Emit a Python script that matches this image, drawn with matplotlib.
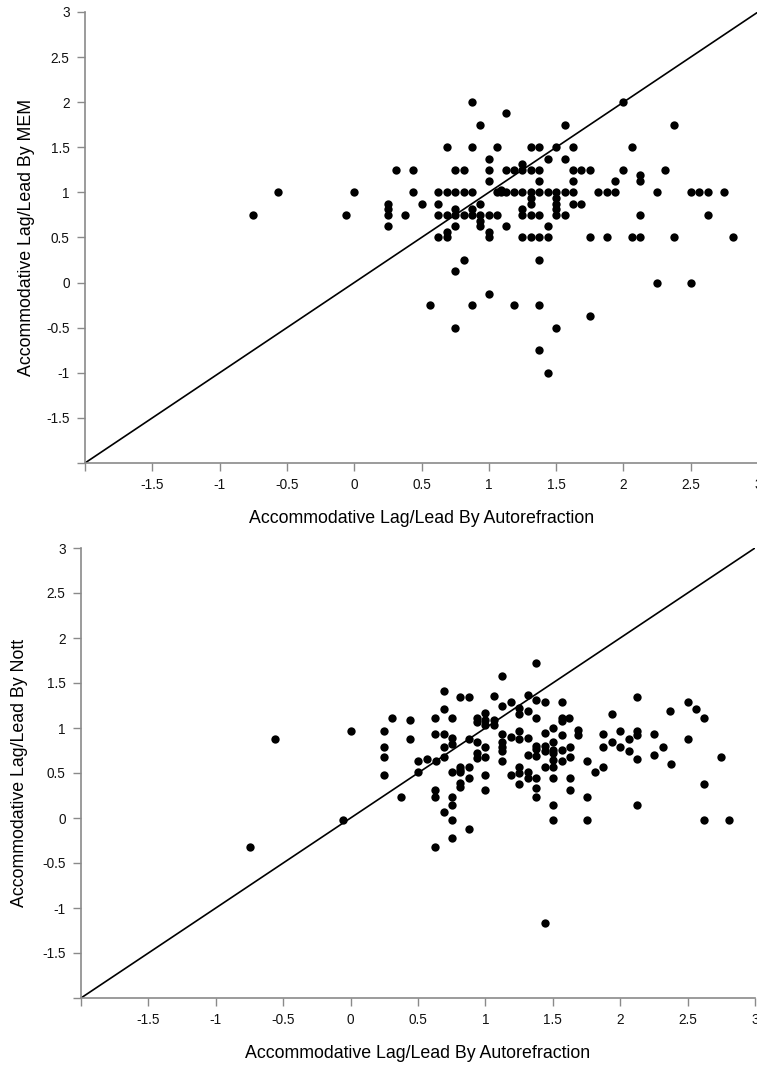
import numpy as np
import matplotlib
matplotlib.use("Agg")
import matplotlib.pyplot as plt

plt.rcParams['font.family'] = ['Liberation Sans', 'DejaVu Sans']

# accommodative lag/lead by autorefraction (x) vs MEM (y)
mem_x = [-0.75, -0.5625, -0.0625, 0.0,
         0.25, 0.25, 0.25, 0.25, 0.3125, 0.375, 0.4375, 0.4375, 0.5, 0.5625,
         0.625, 0.625, 0.625, 0.625,
         0.6875, 0.6875, 0.6875, 0.6875, 0.6875,
         0.75, 0.75, 0.75, 0.75, 0.75, 0.75, 0.75,
         0.8125, 0.8125, 0.8125, 0.8125,
         0.875, 0.875, 0.875, 0.875, 0.875, 0.875,
         0.9375, 0.9375, 0.9375, 0.9375, 0.9375,
         1.0, 1.0, 1.0, 1.0, 1.0, 1.0, 1.0,
         1.0625, 1.0625, 1.0625, 1.09375, 1.09375,
         1.125, 1.125, 1.125, 1.125,
         1.1875, 1.1875, 1.1875,
         1.25, 1.25, 1.25, 1.25, 1.25, 1.25,
         1.3125, 1.3125, 1.3125, 1.3125, 1.3125, 1.3125, 1.3125,
         1.375, 1.375, 1.375, 1.375, 1.375, 1.375, 1.375, 1.375, 1.375,
         1.4375, 1.4375, 1.4375, 1.4375, 1.4375,
         1.5, 1.5, 1.5, 1.5, 1.5, 1.5, 1.5,
         1.5625, 1.5625, 1.5625, 1.5625,
         1.625, 1.625, 1.625, 1.625, 1.625,
         1.6875, 1.6875, 1.75, 1.75, 1.75, 1.8125, 1.875, 1.875,
         1.9375, 1.9375, 2.0, 2.0, 2.0625, 2.0625,
         2.125, 2.125, 2.125, 2.125, 2.25, 2.25, 2.3125, 2.375, 2.375,
         2.5, 2.5, 2.5625, 2.625, 2.625, 2.75, 2.8125]
mem_y = [0.75, 1.0, 0.75, 1.0,
         0.875, 0.8125, 0.75, 0.625, 1.25, 0.75, 1.25, 1.0, 0.875, -0.25,
         1.0, 0.875, 0.75, 0.5,
         1.5, 1.0, 0.75, 0.5625, 0.5,
         1.25, 1.0, 0.8125, 0.75, 0.625, 0.125, -0.5,
         1.25, 1.0, 0.75, 0.25,
         2.0, 1.5, 1.0, 0.8125, 0.75, -0.25,
         1.75, 0.875, 0.75, 0.6875, 0.625,
         1.375, 1.25, 1.125, 0.75, 0.5625, 0.5, -0.125,
         1.5, 1.0, 0.75, 1.0, 1.03,
         1.875, 1.25, 1.0, 0.625,
         1.25, 1.0, -0.25,
         1.3125, 1.25, 1.0, 0.8125, 0.75, 0.5,
         1.5, 1.25, 1.0, 0.9375, 0.875, 0.75, 0.5,
         1.5, 1.25, 1.125, 1.0, 0.75, 0.5, 0.25, -0.25, -0.75,
         1.375, 1.0, 0.625, 0.5, -1.0,
         1.5, 1.0, 0.9375, 0.875, 0.8125, 0.75, -0.5,
         1.75, 1.375, 1.0, 0.75,
         1.5, 1.25, 1.125, 1.0, 0.875,
         1.25, 0.875, 1.25, 0.5, -0.375, 1.0, 1.0, 0.5,
         1.125, 1.0, 2.0, 1.25, 1.5, 0.5,
         1.1875, 1.125, 0.75, 0.5, 1.0, 0.0, 1.25, 1.75, 0.5,
         1.0, 0.0, 1.0, 1.0, 0.75, 1.0, 0.5]

# accommodative lag/lead by autorefraction (x) vs Nott (y)
nott_x = [-0.75, -0.56, -0.06, 0.0,
          0.25, 0.25, 0.25, 0.25, 0.31, 0.375, 0.44, 0.44, 0.5, 0.5, 0.565,
          0.625, 0.625, 0.63, 0.625, 0.625, 0.625,
          0.69, 0.69, 0.69, 0.69, 0.69, 0.69,
          0.75, 0.75, 0.75, 0.75, 0.75, 0.75, 0.75, 0.75,
          0.815, 0.815, 0.815, 0.815, 0.815, 0.815,
          0.875, 0.875, 0.875, 0.875, 0.875,
          0.935, 0.935, 0.94, 0.94, 0.94,
          1.0, 1.0, 1.0, 1.0, 1.0, 1.0, 1.0,
          1.065, 1.065, 1.065,
          1.125, 1.125, 1.125, 1.125, 1.125, 1.125, 1.125,
          1.19, 1.19, 1.19,
          1.25, 1.25, 1.25, 1.25, 1.25, 1.25, 1.25,
          1.315, 1.315, 1.315, 1.315, 1.315, 1.315,
          1.375, 1.375, 1.375, 1.375, 1.375, 1.375, 1.375, 1.375, 1.375,
          1.44, 1.44, 1.44, 1.44, 1.44, 1.44,
          1.5, 1.5, 1.5, 1.5, 1.5, 1.5, 1.5, 1.5, 1.5,
          1.57, 1.57, 1.57, 1.57, 1.57, 1.57,
          1.62, 1.625, 1.625, 1.625, 1.625,
          1.69, 1.69, 1.75, 1.75, 1.75, 1.81, 1.875, 1.875, 1.875,
          1.94, 1.94, 2.0, 2.0, 2.065, 2.065,
          2.125, 2.125, 2.125, 2.125, 2.125, 2.25, 2.25, 2.315, 2.37, 2.375,
          2.5, 2.5, 2.56, 2.625, 2.625, 2.625, 2.75, 2.81]
nott_y = [-0.32, 0.875, -0.02, 0.965,
          0.97, 0.79, 0.68, 0.48, 1.115, 0.23, 1.085, 0.875, 0.635, 0.51, 0.655,
          1.115, 0.93, 0.63, 0.31, 0.23, -0.325,
          1.415, 1.21, 0.93, 0.79, 0.675, 0.065,
          1.115, 0.89, 0.82, 0.51, 0.23, 0.145, -0.025, -0.22,
          1.34, 0.57, 0.535, 0.51, 0.39, 0.34,
          1.34, 0.875, 0.57, 0.45, -0.125,
          1.11, 1.07, 0.84, 0.72, 0.665,
          1.165, 1.09, 1.03, 0.79, 0.675, 0.48, 0.31,
          1.36, 1.09, 1.03,
          1.58, 1.24, 0.93, 0.84, 0.79, 0.75, 0.63,
          1.285, 0.895, 0.48,
          1.22, 1.155, 0.97, 0.875, 0.565, 0.505, 0.375,
          1.37, 1.185, 0.885, 0.70, 0.515, 0.445,
          1.725, 1.31, 1.115, 0.80, 0.765, 0.685, 0.45, 0.33, 0.235,
          1.285, 0.95, 0.795, 0.74, 0.57, -1.165,
          1.0, 0.84, 0.755, 0.72, 0.65, 0.57, 0.45, 0.145, -0.025,
          1.285, 1.11, 1.08, 0.925, 0.755, 0.63,
          1.11, 0.785, 0.675, 0.45, 0.31,
          0.98, 0.925, 0.63, 0.23, -0.025, 0.51, 0.93, 0.785, 0.57,
          1.16, 0.845, 0.97, 0.785, 0.875, 0.74,
          1.34, 0.97, 0.925, 0.655, 0.145, 0.93, 0.705, 0.785, 1.19, 0.6,
          1.285, 0.88, 1.21, 1.115, 0.375, -0.025, 0.68, -0.025]

ticks = [-2, -1.5, -1, -0.5, 0, 0.5, 1, 1.5, 2, 2.5, 3]
tick_labels = ['', '-1.5', '-1', '-0.5', '0', '0.5', '1', '1.5', '2', '2.5', '3']
xlabel = "Accommodative Lag/Lead By Autorefraction"
ylabels = ["Accommodative Lag/Lead By MEM", "Accommodative Lag/Lead By Nott"]

W, H = 757, 1066
fig = plt.figure(figsize=(W / 100, H / 100), dpi=100)

# axes boxes in pixels: left, right, top, bottom
boxes = [(85, 758, 12, 463), (81, 755, 548, 998)]
datasets = [(mem_x, mem_y), (nott_x, nott_y)]
ylabel_pads = [8, 10]
axis_grey = '#8a8a8a'

for (l, r, t, b), (xs, ys), ylab, ypad in zip(boxes, datasets, ylabels, ylabel_pads):
    ax = fig.add_axes([l / W, 1 - b / H, (r - l) / W, (b - t) / H])
    ax.set_xlim(-2, 3)
    ax.set_ylim(-2, 3)
    ax.plot([-2, 3], [-2, 3], color='black', lw=1.2, zorder=2)
    ax.plot(xs, ys, 'o', color='black', markersize=6.0, markeredgewidth=0,
            zorder=3, clip_on=False)
    for side in ['top', 'right']:
        ax.spines[side].set_visible(False)
    for side in ['left', 'bottom']:
        ax.spines[side].set_color(axis_grey)
        ax.spines[side].set_linewidth(1.2)
    ax.set_xticks(ticks)
    ax.set_xticklabels(tick_labels)
    ax.set_yticks(ticks)
    ax.set_yticklabels(tick_labels)
    ax.tick_params(direction='out', length=6, width=1, color=axis_grey,
                   labelsize=9.8, labelcolor='#111111', pad=5)
    ax.set_xlabel(xlabel, fontsize=12.8, labelpad=13)
    ax.set_ylabel(ylab, fontsize=12.8, labelpad=ypad)

fig.savefig('out.png', dpi=100)
